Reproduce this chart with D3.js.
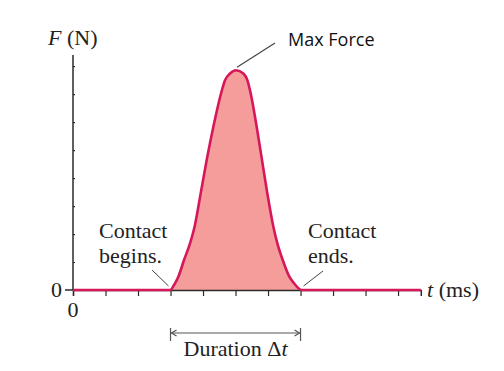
<!DOCTYPE html>
<html>
<head>
<meta charset="utf-8">
<script src="https://cdn.jsdelivr.net/npm/d3@7"></script>
<style>
  body { margin: 0; background: #fff; }
  svg { display: block; }
  .serif { font-family: "Liberation Serif", "DejaVu Serif", serif; fill: #222; }
</style>
</head>
<body>
<div id="chart"></div>
<script>
// force pulse: t in ms (tick units), F in N (tick units)
const pulseT = [0, 2.985, 3.138, 3.241, 3.415, 3.6, 3.74, 3.928, 4.113, 4.318, 4.554, 4.677, 4.831, 5.015,
  5.241, 5.364, 5.467, 5.651, 5.815, 5.979, 6.164, 6.287, 6.452, 6.656, 6.8, 7.036, 10.7];
const pulseF = [0, 0, 0.24, 0.476, 1.071, 1.667, 2.262, 3.452, 4.643, 5.833, 7.024, 7.5, 7.738, 7.857,
  7.738, 7.5, 7.024, 5.833, 4.643, 3.452, 2.262, 1.667, 1.071, 0.476, 0.24, 0, 0];
const xTicks = [0, 1, 2, 3, 4, 5, 6, 7, 8, 9, 10];
const yTicks = [1, 2, 3, 4, 5, 6, 7, 8];
const contactStart = 3, contactEnd = 7, peakT = 5.015, peakF = 7.857;

const w = 504, h = 371;
const x = d3.scaleLinear().domain([0, 10.7]).range([73, 420.8]);
const y = d3.scaleLinear().domain([0, 8.4]).range([290, 55]);

const data = pulseT.map((t, i) => ({ t: t, f: pulseF[i] }));

let svg = d3.select('#chart').append('svg').attr('width', w).attr('height', h);

//shaded area under the pulse
svg.append('path')
  .datum(data)
  .attr('fill', '#f59d9b')
  .attr('d', d3.area().x(d => x(d.t)).y0(y(0)).y1(d => y(d.f)).curve(d3.curveMonotoneX));

//axes
let xAxis = svg.append('g').attr('transform', `translate(0,${y(0)})`)
  .call(d3.axisBottom(x).tickValues(xTicks).tickSize(6).tickFormat(''));
let yAxis = svg.append('g').attr('transform', `translate(${x(0)},0)`)
  .call(d3.axisRight(y).tickValues(yTicks).tickSize(2).tickFormat(''));
[xAxis, yAxis].forEach(a => {
  a.select('.domain').attr('stroke', '#2a2a2a').attr('stroke-width', 1.5);
  a.selectAll('.tick line').attr('stroke', '#2a2a2a').attr('stroke-width', 1.2);
});
yAxis.select('.domain').attr('d', `M0,${y(0)}V${y(8.4)}`);
//zero tick on the left
svg.append('line').attr('x1', x(0) - 8).attr('x2', x(0)).attr('y1', y(0)).attr('y2', y(0))
  .attr('stroke', '#2a2a2a').attr('stroke-width', 1.5);

//the force curve
svg.append('path')
  .datum(data)
  .attr('fill', 'none')
  .attr('stroke', '#d6175a')
  .attr('stroke-width', 2.6)
  .attr('d', d3.line().x(d => x(d.t)).y(d => y(d.f)).curve(d3.curveMonotoneX));

//labels
let yLab = svg.append('text').attr('class', 'serif').attr('x', 48).attr('y', 45).style('font-size', '22px');
yLab.append('tspan').attr('font-style', 'italic').text('F');
yLab.append('tspan').text(' (N)');

let xLab = svg.append('text').attr('class', 'serif').attr('x', 427).attr('y', 297).style('font-size', '22px');
xLab.append('tspan').attr('font-style', 'italic').text('t');
xLab.append('tspan').text(' (ms)');

svg.append('text').attr('class', 'serif').attr('x', 62).attr('y', 297)
  .attr('text-anchor', 'end').style('font-size', '22px').text('0');
svg.append('text').attr('class', 'serif').attr('x', x(0)).attr('y', 317)
  .attr('text-anchor', 'middle').style('font-size', '22px').text('0');

//annotations
const notes = [
  { lines: ['Contact', 'begins.'], tx: 99, from: [152, 270], to: [x(contactStart) - 2, 286] },
  { lines: ['Contact', 'ends.'], tx: 308, from: [323, 271], to: [x(contactEnd) + 3, 286] }
];
notes.forEach(n => {
  n.lines.forEach((s, i) => {
    svg.append('text').attr('class', 'serif').attr('x', n.tx).attr('y', 238 + i * 25)
      .style('font-size', '22px').text(s);
  });
  svg.append('line').attr('x1', n.from[0]).attr('y1', n.from[1]).attr('x2', n.to[0]).attr('y2', n.to[1])
    .attr('stroke', '#444').attr('stroke-width', 1);
});

svg.append('line').attr('x1', 275).attr('y1', 43).attr('x2', x(peakT) + 1).attr('y2', y(peakF) - 3)
  .attr('stroke', '#444').attr('stroke-width', 1.2);
svg.append('text').attr('x', 288).attr('y', 46)
  .style('font-family', '"Open Sans", sans-serif').style('font-size', '18px').attr('fill', '#111')
  .text('Max Force');

//duration bracket
const dy = 333;
let dur = svg.append('g').attr('stroke', '#555').attr('stroke-width', 1.2).attr('fill', 'none');
dur.append('line').attr('x1', x(contactStart)).attr('x2', x(contactEnd)).attr('y1', dy).attr('y2', dy);
[x(contactStart), x(contactEnd)].forEach((px, i) => {
  dur.append('line').attr('x1', px).attr('x2', px).attr('y1', dy - 5).attr('y2', dy + 8);
  const s = i === 0 ? 1 : -1;
  dur.append('path').attr('d', `M${px + s * 6},${dy - 3}L${px + s},${dy}L${px + s * 6},${dy + 3}`);
});
let dLab = svg.append('text').attr('class', 'serif').attr('x', (x(contactStart) + x(contactEnd)) / 2).attr('y', 356)
  .attr('text-anchor', 'middle').style('font-size', '22px');
dLab.append('tspan').text('Duration \u0394');
dLab.append('tspan').attr('font-style', 'italic').text('t');
</script>
</body>
</html>
